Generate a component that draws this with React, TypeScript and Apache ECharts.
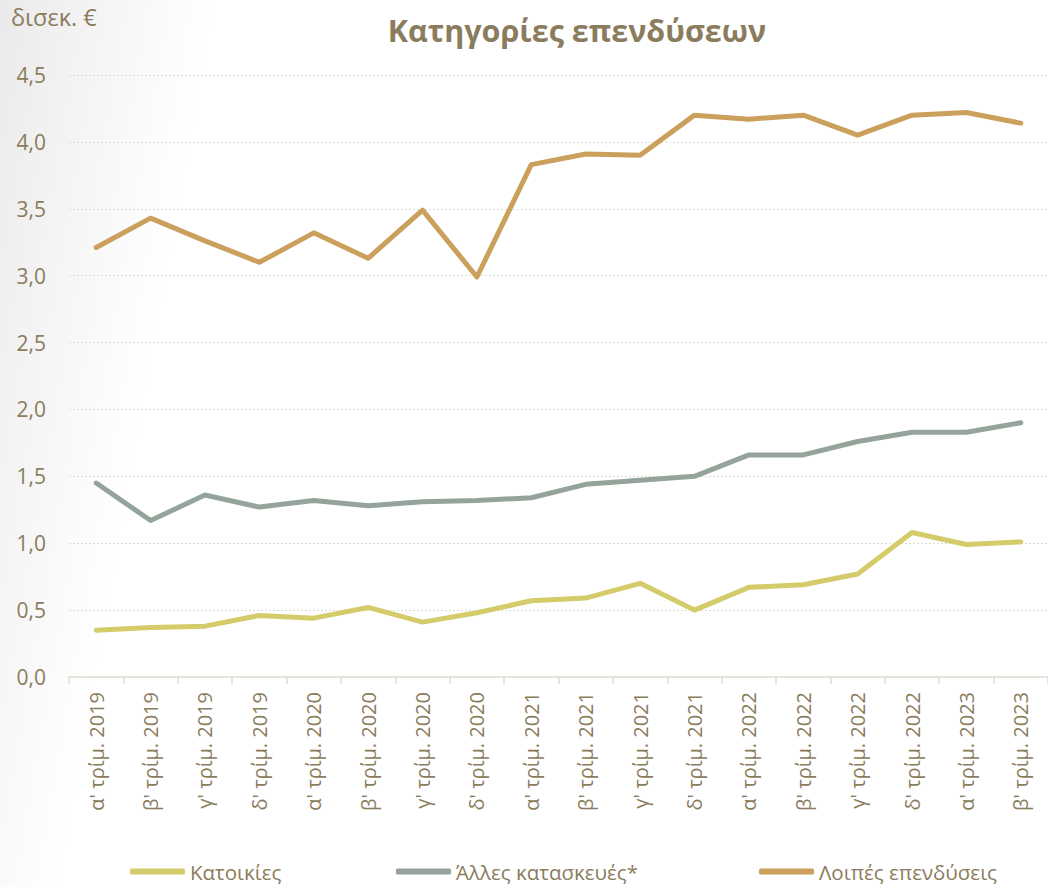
import React, { useEffect, useRef } from "react";
import * as echarts from "echarts";

const categories = [
  "α' τρίμ. 2019", "β' τρίμ. 2019", "γ' τρίμ. 2019", "δ' τρίμ. 2019",
  "α' τρίμ. 2020", "β' τρίμ. 2020", "γ' τρίμ. 2020", "δ' τρίμ. 2020",
  "α' τρίμ. 2021", "β' τρίμ. 2021", "γ' τρίμ. 2021", "δ' τρίμ. 2021",
  "α' τρίμ. 2022", "β' τρίμ. 2022", "γ' τρίμ. 2022", "δ' τρίμ. 2022",
  "α' τρίμ. 2023", "β' τρίμ. 2023",
];

const housing = [0.35, 0.37, 0.38, 0.46, 0.44, 0.52, 0.41, 0.48, 0.57, 0.59, 0.70, 0.50, 0.67, 0.69, 0.77, 1.08, 0.99, 1.01];
const otherConstruction = [1.45, 1.17, 1.36, 1.27, 1.32, 1.28, 1.31, 1.32, 1.34, 1.44, 1.47, 1.50, 1.66, 1.66, 1.76, 1.83, 1.83, 1.90];
const otherInvestment = [3.21, 3.43, 3.26, 3.10, 3.32, 3.13, 3.49, 2.99, 3.83, 3.91, 3.90, 4.20, 4.17, 4.20, 4.05, 4.20, 4.22, 4.14];

const seriesNames = ["Κατοικίες", "Άλλες κατασκευές*", "Λοιπές επενδύσεις"];
const seriesColors = ["#D4CC6A", "#94A49A", "#CAA05C"];
const legendLefts = [125, 391, 754];

const textColor = "#8A7C5C";
const fontFamily = "'Open Sans', 'Noto Sans', sans-serif";

export default function App() {
  const ref = useRef<HTMLDivElement>(null);
  useEffect(() => {
    if (!ref.current) return;
    const chart = echarts.init(ref.current, null, { renderer: "svg" });
    const dataSets = [housing, otherConstruction, otherInvestment];
    chart.setOption({
      animation: false,
      backgroundColor: new echarts.graphic.LinearGradient(0, 0, 1, 0.15, [
        { offset: 0, color: "#eaeaea" },
        { offset: 0.08, color: "#f3f3f3" },
        { offset: 0.2, color: "#ffffff" },
        { offset: 1, color: "#ffffff" },
      ]),
      textStyle: { fontFamily },
      title: {
        text: "Κατηγορίες επενδύσεων",
        left: 572,
        textAlign: "center",
        top: 9,
        textStyle: { color: textColor, fontSize: 30.5, fontWeight: "bold", fontFamily },
      },
      graphic: [
        {
          type: "text",
          left: 11,
          top: 5,
          style: { text: "δισεκ. €", fill: textColor, fontSize: 23.5, fontFamily },
        },
      ],
      legend: seriesNames.map((name, i) => ({
        bottom: 0,
        left: legendLefts[i],
        itemWidth: 55,
        itemHeight: 6,
        itemGap: 5,
        icon: "roundRect",
        textStyle: { color: textColor, fontSize: 20.5, fontFamily },
        data: [name],
      })),
      grid: { left: 69, top: 75, width: 983.7, height: 602 },
      xAxis: {
        type: "category",
        data: categories,
        boundaryGap: true,
        axisLine: { lineStyle: { color: "#E2DDD2", width: 1.5 } },
        axisTick: { show: true, length: 7, lineStyle: { color: "#E2DDD2", width: 1.5 } },
        axisLabel: { rotate: 90, color: textColor, fontSize: 20, margin: 15, fontFamily },
      },
      yAxis: {
        type: "value",
        min: 0,
        max: 4.5,
        interval: 0.5,
        axisLine: { show: false },
        axisTick: { show: false },
        axisLabel: {
          color: textColor,
          fontSize: 21,
          margin: 23,
          fontFamily,
          formatter: (v: number) => v.toFixed(1).replace(".", ","),
        },
        splitLine: { lineStyle: { color: "#DCDCD0", type: [2, 2], width: 1.2 } },
      },
      series: seriesNames.map((name, i) => ({
        name,
        type: "line",
        data: dataSets[i],
        symbol: "none",
        lineStyle: { color: seriesColors[i], width: 5, cap: "round", join: "round" },
        itemStyle: { color: seriesColors[i] },
      })),
    });
    return () => chart.dispose();
  }, []);
  return (
    <div
      ref={ref}
      style={{ position: "fixed", left: 0, top: 0, width: 1048, height: 887 }}
    />
  );
}
